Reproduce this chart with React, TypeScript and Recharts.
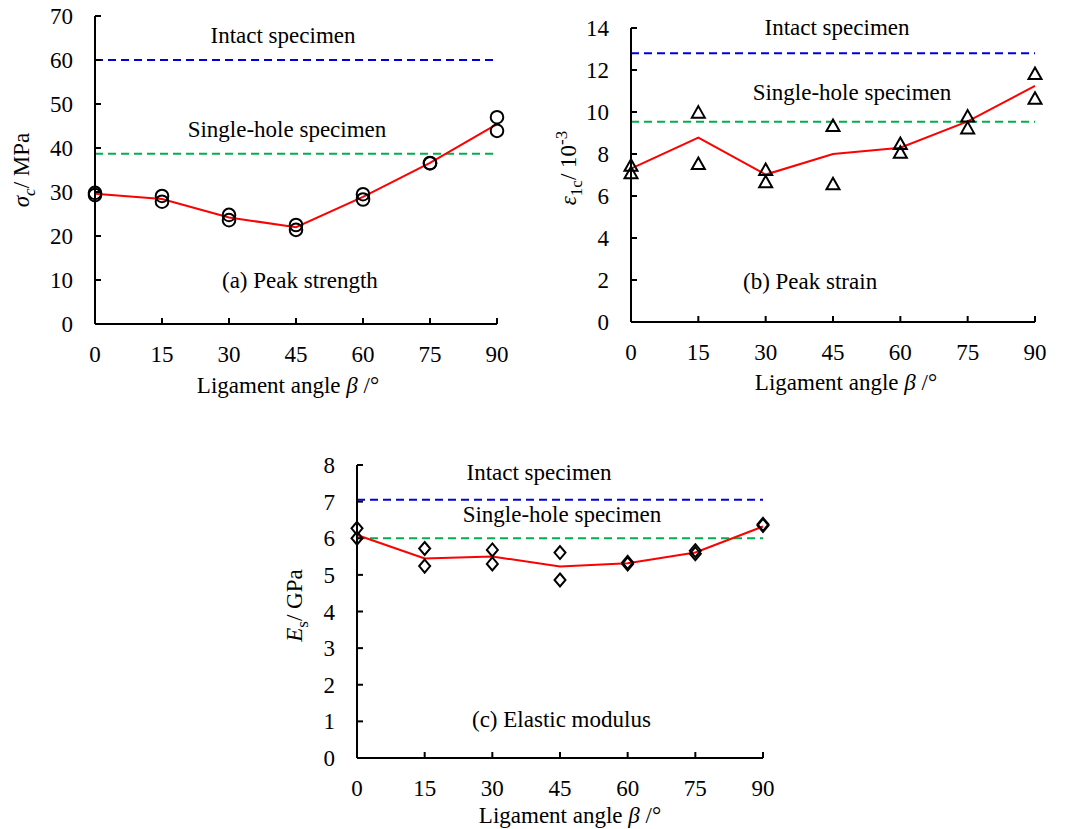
import React from "react";
import {
  ComposedChart,
  Line,
  Scatter,
  XAxis,
  YAxis,
  ReferenceLine,
} from "recharts";

const angles = [0, 15, 30, 45, 60, 75, 90];
const xTicks = [0, 15, 30, 45, 60, 75, 90];

// (a) peak strength, MPa
const strengthA = [29.8, 29.1, 24.8, 22.5, 29.5, 36.5, 47.0];
const strengthB = [29.3, 27.8, 23.6, 21.4, 28.3, 36.6, 43.9];
const strengthMean = [29.6, 28.4, 24.2, 22.0, 28.9, 36.6, 45.4];
const strengthIntact = 60;
const strengthSingle = 38.7;
const strengthTicks = [0, 10, 20, 30, 40, 50, 60, 70];

// (b) peak strain, 10^-3
const strainA = [7.44, 9.97, 7.24, 9.33, 8.48, 9.78, 11.81];
const strainB = [7.08, 7.52, 6.65, 6.56, 8.06, 9.22, 10.63];
const strainMean = [7.3, 8.78, 7.02, 8.0, 8.3, 9.55, 11.24];
const strainIntact = 12.8;
const strainSingle = 9.54;
const strainTicks = [0, 2, 4, 6, 8, 10, 12, 14];

// (c) elastic modulus, GPa
const modulusA = [6.27, 5.72, 5.68, 5.61, 5.34, 5.66, 6.38];
const modulusB = [6.0, 5.24, 5.3, 4.86, 5.3, 5.58, 6.35];
const modulusMean = [6.09, 5.45, 5.5, 5.23, 5.32, 5.61, 6.32];
const modulusIntact = 7.05;
const modulusSingle = 6.0;
const modulusTicks = [0, 1, 2, 3, 4, 5, 6, 7, 8];

const FONT = "'Liberation Serif', 'Times New Roman', serif";
const FS = 23;
const SUB = 17;
const BLUE = "#0000dd";
const GREEN = "#00b050";
const RED = "#ff0000";

function pointsOf(a: number[], b: number[]) {
  const out: { angle: number; v: number }[] = [];
  angles.forEach((x, i) => {
    out.push({ angle: x, v: a[i] });
    out.push({ angle: x, v: b[i] });
  });
  return out;
}

function meanOf(m: number[]) {
  return angles.map((x, i) => ({ angle: x, mean: m[i] }));
}

const XTick = (props: any) => {
  const { x, y, payload } = props;
  return (
    <g>
      <line x1={x} y1={y} x2={x} y2={y - 6} stroke="#000" strokeWidth={2} />
      <text x={x} y={y + 38} textAnchor="middle" fontFamily={FONT} fontSize={FS} fill="#000">
        {payload.value}
      </text>
    </g>
  );
};

const YTick = (props: any) => {
  const { x, y, payload } = props;
  return (
    <g>
      <line x1={x} y1={y} x2={x + 6} y2={y} stroke="#000" strokeWidth={2} />
      <text x={x - 22} y={y + 8} textAnchor="end" fontFamily={FONT} fontSize={FS} fill="#000">
        {payload.value}
      </text>
    </g>
  );
};

const circle = (p: any) => (
  <circle cx={p.cx} cy={p.cy} r={6.3} fill="none" stroke="#000" strokeWidth={2} />
);
const triangle = (p: any) => (
  <path
    d={`M${p.cx},${p.cy - 6.5} L${p.cx + 6.5},${p.cy + 5} L${p.cx - 6.5},${p.cy + 5} Z`}
    fill="none"
    stroke="#000"
    strokeWidth={2}
  />
);
const diamond = (p: any) => (
  <path
    d={`M${p.cx},${p.cy - 6.5} L${p.cx + 5.5},${p.cy} L${p.cx},${p.cy + 6.5} L${p.cx - 5.5},${p.cy} Z`}
    fill="none"
    stroke="#000"
    strokeWidth={2}
  />
);

const lineLabel = (text: string, dx: number, up: number) => (props: any) => {
  const { viewBox } = props;
  return (
    <text
      x={viewBox.x + viewBox.width / 2 + dx}
      y={viewBox.y - up}
      textAnchor="middle"
      fontFamily={FONT}
      fontSize={FS}
      fill="#000"
    >
      {text}
    </text>
  );
};

const xLabel = (dx: number, down: number) => (props: any) => {
  const { viewBox } = props;
  return (
    <text
      x={viewBox.x + viewBox.width / 2 + dx}
      y={viewBox.y + down}
      textAnchor="middle"
      fontFamily={FONT}
      fontSize={FS}
      fill="#000"
    >
      Ligament angle <tspan fontStyle="italic">β</tspan> /°
    </text>
  );
};

const yLabel = (kind: "a" | "b" | "c", bx: number, dy: number) => (props: any) => {
  const { viewBox } = props;
  const x = viewBox.x + bx;
  const y = viewBox.y + viewBox.height / 2 + dy;
  let body;
  if (kind === "a") {
    body = (
      <>
        <tspan fontStyle="italic">σ</tspan>
        <tspan fontStyle="italic" fontSize={SUB} dy={6}>c</tspan>
        <tspan dy={-6}>/ MPa</tspan>
      </>
    );
  } else if (kind === "b") {
    body = (
      <>
        <tspan fontStyle="italic">ε</tspan>
        <tspan fontSize={SUB} dy={6}>1c</tspan>
        <tspan dy={-6}>/ 10</tspan>
        <tspan fontSize={SUB} dy={-9}>-3</tspan>
      </>
    );
  } else {
    body = (
      <>
        <tspan fontStyle="italic">E</tspan>
        <tspan fontSize={SUB} dy={6}>s</tspan>
        <tspan dy={-6}>/ GPa</tspan>
      </>
    );
  }
  return (
    <text
      x={x}
      y={y}
      transform={`rotate(-90, ${x}, ${y})`}
      textAnchor="middle"
      fontFamily={FONT}
      fontSize={FS}
      fill="#000"
    >
      {body}
    </text>
  );
};

type PanelProps = {
  left: number;
  top: number;
  width: number;
  height: number;
  margin: { top: number; right: number; left: number; bottom: number };
  yWidth: number;
  xHeight: number;
  yMax: number;
  yTicks: number[];
  a: number[];
  b: number[];
  mean: number[];
  intact: number;
  single: number;
  shape: any;
  yKind: "a" | "b" | "c";
  yLabelX: number;
  yLabelDy: number;
  xLabelDx: number;
  xLabelDown: number;
  intactDx: number;
  intactUp: number;
  singleDx: number;
  singleUp: number;
  title: string;
  titleLeft: number;
  titleTop: number;
};

function Panel(p: PanelProps) {
  return (
    <div style={{ position: "absolute", left: p.left, top: p.top, width: p.width, height: p.height }}>
      <ComposedChart width={p.width} height={p.height} data={meanOf(p.mean)} margin={p.margin}>
        <XAxis
          dataKey="angle"
          type="number"
          domain={[0, 90]}
          ticks={xTicks}
          interval={0}
          height={p.xHeight}
          stroke="#000"
          strokeWidth={2}
          tickLine={false}
          tickSize={0}
          tickMargin={0}
          tick={<XTick />}
          label={{ content: xLabel(p.xLabelDx, p.xLabelDown) }}
        />
        <YAxis
          type="number"
          domain={[0, p.yMax]}
          ticks={p.yTicks}
          interval={0}
          width={p.yWidth}
          stroke="#000"
          strokeWidth={2}
          tickLine={false}
          tickSize={0}
          tickMargin={0}
          tick={<YTick />}
          label={{ content: yLabel(p.yKind, p.yLabelX, p.yLabelDy) }}
        />
        <ReferenceLine
          y={p.intact}
          stroke={BLUE}
          strokeWidth={2}
          strokeDasharray="8 5"
          label={{ content: lineLabel("Intact specimen", p.intactDx, p.intactUp) }}
        />
        <ReferenceLine
          y={p.single}
          stroke={GREEN}
          strokeWidth={2}
          strokeDasharray="8 5"
          label={{ content: lineLabel("Single-hole specimen", p.singleDx, p.singleUp) }}
        />
        <Line
          dataKey="mean"
          stroke={RED}
          strokeWidth={2}
          dot={false}
          isAnimationActive={false}
        />
        <Scatter
          data={pointsOf(p.a, p.b)}
          dataKey="v"
          shape={p.shape}
          isAnimationActive={false}
        />
      </ComposedChart>
      <div
        style={{
          position: "absolute",
          left: p.titleLeft,
          top: p.titleTop,
          fontFamily: FONT,
          fontSize: FS,
          lineHeight: `${FS}px`,
          whiteSpace: "nowrap",
          color: "#000",
        }}
      >
        {p.title}
      </div>
    </div>
  );
}

export default function App() {
  return (
    <div
      style={{
        position: "absolute",
        left: 0,
        top: 0,
        width: 1071,
        height: 829,
        background: "#fff",
      }}
    >
      <Panel
        left={0}
        top={0}
        width={530}
        height={400}
        margin={{ top: 16, right: 33, left: 0, bottom: 0 }}
        yWidth={95}
        xHeight={76}
        yMax={70}
        yTicks={strengthTicks}
        a={strengthA}
        b={strengthB}
        mean={strengthMean}
        intact={strengthIntact}
        single={strengthSingle}
        shape={circle}
        yKind="a"
        yLabelX={29}
        yLabelDy={0}
        xLabelDx={-8}
        xLabelDown={69}
        intactDx={-13}
        intactUp={17}
        singleDx={-9}
        singleUp={17}
        title="(a) Peak strength"
        titleLeft={222}
        titleTop={269}
      />
      <Panel
        left={530}
        top={0}
        width={541}
        height={400}
        margin={{ top: 28, right: 36, left: 0, bottom: 0 }}
        yWidth={101}
        xHeight={78}
        yMax={14}
        yTicks={strainTicks}
        a={strainA}
        b={strainB}
        mean={strainMean}
        intact={strainIntact}
        single={strainSingle}
        shape={triangle}
        yKind="b"
        yLabelX={46}
        yLabelDy={-7}
        xLabelDx={13}
        xLabelDown={68}
        intactDx={4}
        intactUp={18}
        singleDx={19}
        singleUp={22}
        title="(b) Peak strain"
        titleLeft={213}
        titleTop={270}
      />
      <Panel
        left={270}
        top={440}
        width={540}
        height={389}
        margin={{ top: 25, right: 47, left: 0, bottom: 0 }}
        yWidth={87}
        xHeight={71}
        yMax={8}
        yTicks={modulusTicks}
        a={modulusA}
        b={modulusB}
        mean={modulusMean}
        intact={modulusIntact}
        single={modulusSingle}
        shape={diamond}
        yKind="c"
        yLabelX={32}
        yLabelDy={-6}
        xLabelDx={10}
        xLabelDown={65}
        intactDx={-21}
        intactUp={20}
        singleDx={2}
        singleUp={16}
        title="(c) Elastic modulus"
        titleLeft={202}
        titleTop={268}
      />
    </div>
  );
}
